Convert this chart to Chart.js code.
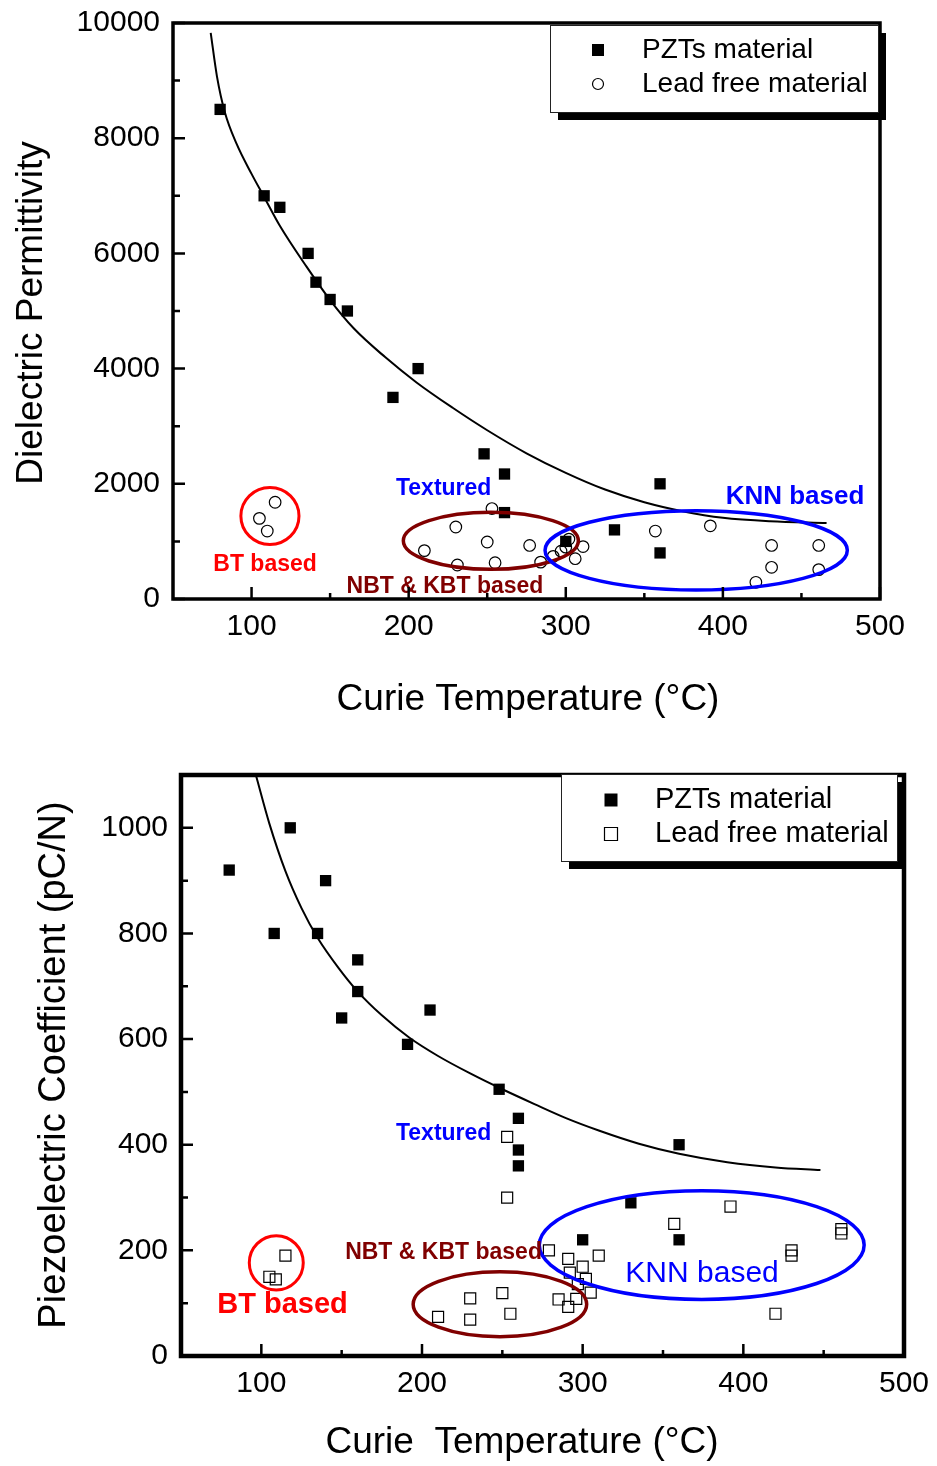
<!DOCTYPE html>
<html>
<head>
<meta charset="utf-8">
<script src="https://cdn.jsdelivr.net/npm/chart.js@4.4.1/dist/chart.umd.min.js"></script>
<style>
  html, body { margin: 0; padding: 0; background: #fff; }
  #wrap { position: relative; width: 937px; height: 1466px; }
  canvas { position: absolute; left: 0; }
</style>
</head>
<body>
<div id="wrap">
  <canvas id="perm" width="937" height="730" style="top:0"></canvas>
  <canvas id="piezo" width="937" height="736" style="top:730px"></canvas>
</div>
<script>
// ── top panel: dielectric permittivity vs Curie temperature ──
const permPztTc   = [80, 108, 118, 136, 141, 150, 161, 190, 206, 248, 261, 261, 300, 331, 360, 360];
const permPztEps  = [8500, 7000, 6800, 6000, 5500, 5200, 5000, 3500, 4000, 2520, 2170, 1500, 1000, 1200, 2000, 800];
const permFreeTc  = [105, 110, 115, 210, 230, 231, 250, 253, 255, 277, 284, 292, 297, 300, 302, 306, 311, 357, 392, 421, 431, 431, 461, 461];
const permFreeEps = [1400, 1180, 1680, 840, 1250, 590, 990, 1570, 630, 930, 640, 740, 830, 900, 1040, 700, 910, 1180, 1270, 290, 930, 550, 930, 510];
const permFitTc   = [74, 78, 83, 90.5, 100, 108, 118, 135, 150, 165, 185, 205, 228, 250, 275, 300, 325, 350, 375, 400, 430, 466];
const permFitEps  = [9830, 9070, 8450, 7900, 7380, 6980, 6480, 5770, 5190, 4700, 4200, 3760, 3320, 2930, 2530, 2190, 1900, 1680, 1520, 1410, 1350, 1320];
const permYMajor  = [0, 2000, 4000, 6000, 8000, 10000];
const permYMinor  = [1000, 3000, 5000, 7000, 9000];

// ── bottom panel: piezoelectric coefficient vs Curie temperature ──
const piezoPztTc   = [80, 108, 118, 135, 140, 150, 160, 160, 191, 205, 248, 260, 260, 260, 300, 330, 360, 360];
const piezoPztD33  = [920, 800, 1000, 800, 900, 640, 750, 690, 590, 655, 505, 450, 390, 360, 220, 290, 400, 220];
const piezoFreeTc  = [105, 109, 115, 210, 230, 230, 250, 253, 253, 255, 279, 285, 291, 291, 292, 296, 297, 300, 302, 305, 310, 357, 392, 420, 430, 430, 461, 461];
const piezoFreeD33 = [150, 145, 190, 74, 109, 69, 119, 415, 300, 80, 200, 107, 184, 93, 158, 108, 136, 169, 146, 120, 190, 250, 283, 80, 200, 190, 240, 232];
const piezoFitTc   = [96.6, 105, 115, 125, 135, 148, 160, 175, 192, 210, 230, 250, 270, 290, 310, 335, 360, 390, 420, 448];
const piezoFitD33  = [1100, 1008, 918, 848, 792, 735, 690, 645, 603, 568, 535, 505, 477, 450, 427, 402, 383, 367, 357, 352];
const piezoYMajor  = [0, 200, 400, 600, 800, 1000];
const piezoYMinor  = [100, 300, 500, 700, 900];

const tcMajor = [100, 200, 300, 400, 500];
const tcMinor = [150, 250, 350, 450];

const FONT = '"Liberation Sans", Arial, sans-serif';
const RED = '#ff0000', BLUE = '#0000ff', MAROON = '#800000';

const pts = (xs, ys) => xs.map((x, i) => ({ x, y: ys[i] }));

function text(ctx, str, x, y, o = {}) {
  ctx.save();
  ctx.translate(x, y);
  if (o.rotate) ctx.rotate(o.rotate);
  ctx.font = `${o.weight || 'normal'} ${o.size || 30}px ${FONT}`;
  ctx.fillStyle = o.color || '#000';
  ctx.textAlign = o.align || 'center';
  ctx.textBaseline = 'middle';
  ctx.fillText(str, 0, 0);
  ctx.restore();
}

function marker(ctx, style, x, y, size, filled) {
  ctx.save();
  ctx.lineWidth = 1.2;
  ctx.strokeStyle = '#000';
  ctx.fillStyle = '#000';
  ctx.beginPath();
  if (style === 'circle') ctx.arc(x, y, size / 2, 0, Math.PI * 2);
  else ctx.rect(x - size / 2, y - size / 2, size, size);
  filled ? ctx.fill() : ctx.stroke();
  ctx.restore();
}

// frame, inward ticks, labels, legend and the hand-drawn group marks
function panelPlugin(cfg) {
  return {
    id: 'panel',
    afterDatasetsDraw(chart) {
      const { ctx, scales: { x, y } } = chart;
      cfg.ellipses.forEach(e => {
        const cx = x.getPixelForValue(e.cx), cy = y.getPixelForValue(e.cy);
        const rx = Math.abs(x.getPixelForValue(e.cx + e.rx) - cx);
        const ry = Math.abs(y.getPixelForValue(e.cy + e.ry) - cy);
        ctx.save();
        ctx.strokeStyle = e.color;
        ctx.lineWidth = e.width;
        ctx.beginPath();
        ctx.ellipse(cx, cy, rx, ry, 0, 0, Math.PI * 2);
        ctx.stroke();
        ctx.restore();
      });
      cfg.notes.forEach(n => {
        text(ctx, n.text, x.getPixelForValue(n.x), y.getPixelForValue(n.y),
          { size: n.size, weight: n.weight, color: n.color });
      });
    },
    afterDraw(chart) {
      const { ctx, chartArea: a, scales: { x, y } } = chart;
      ctx.save();
      ctx.strokeStyle = '#000';
      ctx.lineWidth = cfg.frame;
      ctx.strokeRect(a.left, a.top, a.right - a.left, a.bottom - a.top);
      ctx.lineWidth = 2.5;
      ctx.beginPath();
      tcMajor.concat(tcMinor).forEach(v => {
        const px = x.getPixelForValue(v);
        const len = tcMajor.includes(v) ? 12 : 6;
        ctx.moveTo(px, a.bottom);
        ctx.lineTo(px, a.bottom - len);
      });
      cfg.yMajor.concat(cfg.yMinor).forEach(v => {
        const py = y.getPixelForValue(v);
        const len = cfg.yMajor.includes(v) ? 12 : 7;
        ctx.moveTo(a.left, py);
        ctx.lineTo(a.left + len, py);
      });
      ctx.stroke();
      ctx.restore();

      tcMajor.forEach(v => text(ctx, String(v), x.getPixelForValue(v), a.bottom + 28, { size: 30 }));
      cfg.yMajor.forEach(v => text(ctx, String(v), a.left - 13, y.getPixelForValue(v), { size: 30, align: 'right' }));

      text(ctx, cfg.xTitle, cfg.xTitlePos[0], cfg.xTitlePos[1], { size: 37 });
      text(ctx, cfg.yTitle, cfg.yTitlePos[0], cfg.yTitlePos[1], { size: cfg.yTitleSize, rotate: -Math.PI / 2 });

      // legend box with drop shadow
      const L = cfg.legend;
      ctx.save();
      ctx.fillStyle = '#000';
      ctx.fillRect(L.x + L.shadow, L.y + L.shadow, L.w, L.h);
      ctx.fillStyle = '#fff';
      ctx.fillRect(L.x, L.y, L.w, L.h);
      ctx.strokeStyle = '#222';
      ctx.lineWidth = 1;
      ctx.strokeRect(L.x + 0.5, L.y + 0.5, L.w, L.h);
      ctx.restore();
      chart.data.datasets.filter(d => d.inLegend).forEach((d, i) => {
        const cy = L.y + L.rowTop + i * L.rowGap;
        marker(ctx, d.pointStyle, L.markX, cy, d.legendSize, d.legendFilled);
        text(ctx, d.label, L.textX, cy, { size: L.font, align: 'left' });
      });
    }
  };
}

function makePanel(id, cfg) {
  return new Chart(document.getElementById(id), {
    type: 'scatter',
    data: {
      datasets: [
        { label: 'PZTs material', data: cfg.pzt, inLegend: true, order: 0,
          pointStyle: 'rect', pointRadius: 8, backgroundColor: '#000', borderWidth: 0,
          legendSize: cfg.legendMark, legendFilled: true },
        { label: 'Lead free material', data: cfg.free, inLegend: true, order: 1,
          pointStyle: cfg.freeStyle, pointRadius: cfg.freeRadius, backgroundColor: 'rgba(0,0,0,0)',
          borderColor: '#000', borderWidth: 1.2,
          legendSize: cfg.freeStyle === 'circle' ? 11 : cfg.legendMark, legendFilled: false },
        { label: 'fit', data: cfg.fit, showLine: true, order: 2, borderColor: '#000', borderWidth: 2,
          pointRadius: 0, cubicInterpolationMode: 'monotone', fill: false }
      ]
    },
    options: {
      responsive: false,
      devicePixelRatio: 1,
      animation: false,
      events: [],
      layout: { padding: cfg.padding },
      scales: {
        x: { type: 'linear', display: false, min: 50, max: 500 },
        y: { type: 'linear', display: false, min: 0, max: cfg.yMax }
      },
      plugins: { legend: { display: false }, tooltip: { enabled: false } }
    },
    plugins: [panelPlugin(cfg)]
  });
}

makePanel('perm', {
  pzt: pts(permPztTc, permPztEps),
  free: pts(permFreeTc, permFreeEps),
  fit: pts(permFitTc, permFitEps),
  freeStyle: 'circle', freeRadius: 5.8, legendMark: 12,
  yMax: 10000, yMajor: permYMajor, yMinor: permYMinor,
  padding: { left: 173, right: 57, top: 23, bottom: 131 },
  frame: 3.5,
  xTitle: 'Curie Temperature (°C)', xTitlePos: [528, 700],
  yTitle: 'Dielectric Permittivity', yTitlePos: [32, 313], yTitleSize: 37,
  legend: { x: 550, y: 25, w: 328, h: 87, shadow: 8, rowTop: 25, rowGap: 34, markX: 598, textX: 642, font: 28 },
  ellipses: [
    { cx: 111.7, cy: 1441, rx: 18.5, ry: 495, color: RED, width: 3 },
    { cx: 252.3, cy: 1010, rx: 55.7, ry: 495, color: MAROON, width: 3.5 },
    { cx: 383, cy: 845, rx: 96.2, ry: 689, color: BLUE, width: 3.5 }
  ],
  notes: [
    { text: 'BT based', x: 108.6, y: 590, size: 23, weight: 'bold', color: RED },
    { text: 'Textured', x: 222.3, y: 1922, size: 23, weight: 'bold', color: BLUE },
    { text: 'NBT & KBT based', x: 223.1, y: 214, size: 23, weight: 'bold', color: MAROON },
    { text: 'KNN based', x: 445.9, y: 1771, size: 26, weight: 'bold', color: BLUE }
  ]
});

makePanel('piezo', {
  pzt: pts(piezoPztTc, piezoPztD33),
  free: pts(piezoFreeTc, piezoFreeD33),
  fit: pts(piezoFitTc, piezoFitD33),
  freeStyle: 'rect', freeRadius: 7.8, legendMark: 13,
  yMax: 1100, yMajor: piezoYMajor, yMinor: piezoYMinor,
  padding: { left: 181, right: 33, top: 45, bottom: 110 },
  frame: 4.5,
  xTitle: 'Curie  Temperature (°C)', xTitlePos: [522, 713],
  yTitle: 'Piezoelectric Coefficient (pC/N)', yTitlePos: [55, 335], yTitleSize: 38,
  legend: { x: 561, y: 44, w: 336, h: 87, shadow: 8, rowTop: 26, rowGap: 34, markX: 611, textX: 655, font: 29 },
  ellipses: [
    { cx: 109.3, cy: 176.4, rx: 16.8, ry: 51.5, color: RED, width: 3 },
    { cx: 248.5, cy: 98, rx: 54, ry: 61.5, color: MAROON, width: 3.5 },
    { cx: 374.1, cy: 210, rx: 101.1, ry: 102.8, color: BLUE, width: 3.5 }
  ],
  notes: [
    { text: 'Textured', x: 213.5, y: 421.6, size: 23, weight: 'bold', color: BLUE },
    { text: 'NBT & KBT based', x: 213.4, y: 195.6, size: 23, weight: 'bold', color: MAROON },
    { text: 'BT based', x: 113.2, y: 96.6, size: 29, weight: 'bold', color: RED },
    { text: 'KNN based', x: 374.3, y: 156.6, size: 30, color: BLUE }
  ]
});
</script>
</body>
</html>
